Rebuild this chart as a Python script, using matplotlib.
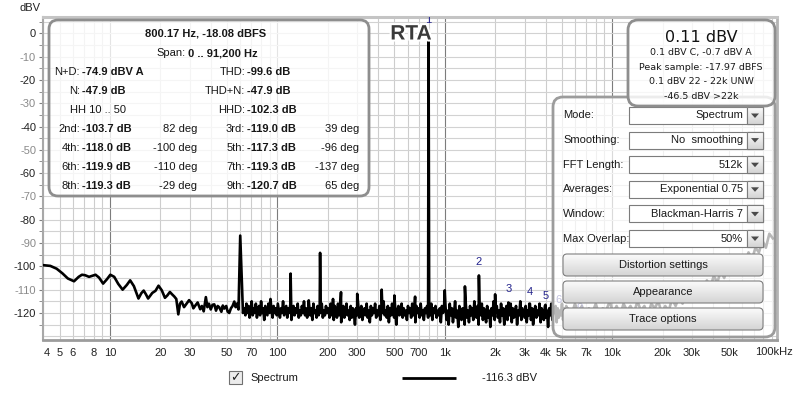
import numpy as np
import matplotlib
matplotlib.use("Agg")
import matplotlib.pyplot as plt
from matplotlib.patches import FancyBboxPatch, Rectangle, Polygon
from matplotlib.ticker import FixedLocator, NullLocator
import matplotlib.patheffects as pe
from matplotlib.colors import LinearSegmentedColormap

# ---------------- data ----------------
low_freq = [4.0, 4.4, 4.8, 5.2, 5.6, 6.1, 6.5, 6.8, 7.1, 7.5, 7.9, 8.2, 8.6, 9.1, 9.6,
            10.05, 10.6, 11.2, 11.9, 12.6, 13.2, 13.9, 14.8, 15.4, 15.9, 16.4, 16.9, 17.9,
            18.7, 19.5, 20.4, 21.3, 22.0, 22.8, 23.5, 24.2, 24.9, 25.6, 26.2, 26.8, 27.7,
            28.7, 29.7, 30.8, 31.5, 32.2, 33.4, 34.6, 35.4, 36.3, 37.4, 38.2, 39.0, 40.0,
            41.0, 42.0, 43.0, 44.0, 45.0, 46.3, 47.2, 48.2, 49.5, 50.5, 51.6, 52.8, 54.0,
            55.3, 56.3, 57.3, 58.6, 62.3]
low_db = [-99.5, -99.8, -101.0, -103.0, -105.2, -106.4, -104.5, -103.6, -103.8, -104.5,
          -104.0, -103.6, -104.8, -107.4, -105.5, -103.6, -104.5, -107.5, -110.0, -108.0,
          -106.0, -108.5, -113.8, -111.5, -110.4, -112.0, -113.8, -111.4, -110.5, -108.3,
          -110.3, -113.5, -112.5, -111.0, -112.0, -112.9, -114.0, -120.6, -116.0, -115.1,
          -117.5, -116.0, -114.5, -115.8, -118.0, -117.0, -115.5, -118.4, -117.0, -119.3,
          -113.2, -117.5, -116.0, -118.5, -116.5, -116.3, -119.0, -117.0, -117.6, -119.5,
          -116.8, -118.1, -117.0, -119.5, -120.0, -118.0, -117.0, -115.1, -117.5, -116.0,
          -118.5, -120.0]

# noise floor, 63 Hz .. 200 Hz
noise_a_db = [-118, -121, -116, -120, -117, -122, -119, -115, -121, -118, -120, -116, -122, -119,
              -117, -121, -115, -120, -118, -123, -117, -119, -121, -116, -120, -114, -119, -122,
              -117, -120, -118, -121, -116, -119, -122, -118, -120, -115, -121, -119, -117, -122,
              -118, -120, -116, -123, -119, -117, -121, -118, -120, -116, -122, -119, -121, -117,
              -120, -115, -121, -118, -122, -119, -117, -121, -118, -123, -116, -120, -119, -122,
              -117, -121, -118, -120, -116, -122, -119, -121, -117, -120]
# noise floor, 200 Hz .. 1 kHz
noise_b_db = [-118, -122, -116, -121, -119, -123, -117, -120, -122, -116, -121, -118, -124, -119,
              -117, -122, -120, -116, -121, -119, -123, -117, -122, -118, -120, -125, -118, -121,
              -116, -122, -119, -117, -123, -120, -118, -121, -116, -122, -119, -124, -117, -121,
              -118, -120, -116, -122, -119, -121, -117, -123, -118, -120, -115, -121, -119, -122,
              -117, -124, -118, -121, -116, -120, -122, -118, -125, -119, -117, -121, -120, -116,
              -122, -118, -121, -119, -123, -117, -120, -118, -122, -116, -121, -119, -124, -117,
              -120, -118, -122, -116, -121, -119, -123, -118, -120, -117, -122, -119, -121, -116,
              -123, -118, -120, -117, -122, -119, -121, -118, -124, -117, -120, -118]
# noise floor, 1 kHz .. 5.4 kHz
noise_c_db = [-117, -123, -119, -125, -116, -121, -118, -124, -120, -115, -122, -119, -126, -117,
              -121, -123, -118, -120, -125, -116, -122, -119, -124, -117, -121, -118, -123, -115,
              -120, -122, -117, -125, -119, -121, -116, -123, -118, -120, -124, -117, -122, -119,
              -126, -118, -121, -115, -123, -120, -117, -122, -119, -124, -116, -121, -118, -125,
              -120, -117, -123, -119, -121, -116, -124, -118, -122, -120, -117, -125, -119, -121,
              -115, -123, -118, -120, -122, -117, -124, -119, -121, -116, -123, -118, -125, -120,
              -117, -122, -119, -121, -116, -124, -118, -120, -123, -117, -122, -119, -126, -118,
              -121, -116, -123, -119, -120, -117, -124, -118, -122, -119, -121, -116, -123, -118,
              -120, -117, -121]
# noise floor, 5.4 kHz .. 91.2 kHz (mostly behind the control panel)
noise_d_db = [-118, -121, -116, -120, -117, -122, -118, -120, -116, -121, -118, -119, -115, -120,
              -117, -121, -116, -119, -117, -120, -115, -119, -117, -121, -116, -118, -115, -120,
              -117, -119, -114, -117, -113, -116, -112, -115, -110, -113, -108, -111, -106, -109,
              -104, -107, -102, -105, -100, -103, -98, -101, -96, -99, -94, -97, -92, -94, -89,
              -92, -86, -88]

spike_freq = [60, 120, 154, 180, 215, 240, 300, 420, 500, 665, 800.17, 1000, 1320, 1600,
              2000, 2400, 3200, 4000]
spike_db = [-86.8, -103.1, -114.6, -94.2, -114.0, -111.1, -111.8, -110.0, -112.5, -113.0, 0.11,
            -110.3, -108.6, -103.9, -112.0, -115.5, -116.0, -116.5]

fundamental = 800.17
harm_num = [1, 2, 3, 4, 5, 6, 8]
harm_label_db = [4.4, -99.5, -111.2, -112.1, -114.0, -115.6, -117.7]

x_ticks = [4, 5, 6, 8, 10, 20, 30, 50, 70, 100, 200, 300, 500, 700, 1000, 2000, 3000, 4000,
           5000, 7000, 10000, 20000, 30000, 50000]
x_tick_labels = ["4", "5", "6", "8", "10", "20", "30", "50", "70", "100", "200", "300", "500",
                 "700", "1k", "2k", "3k", "4k", "5k", "7k", "10k", "20k", "30k", "50k"]
y_ticks = [0, -10, -20, -30, -40, -50, -60, -70, -80, -90, -100, -110, -120]

# ---------------- figure ----------------
FONT = "Liberation Sans"
plt.rcParams["font.family"] = [FONT, "DejaVu Sans"]
W, H = 800, 393
fig = plt.figure(figsize=(W / 100, H / 100), dpi=100, facecolor="white")
ax = fig.add_axes([43 / W, 1 - 340 / H, (777 - 43) / W, (340 - 17) / H])
ax.set_xscale("log")
xmin, xmax = 3.98, 96600
ax.set_xlim(xmin, xmax)
ax.set_ylim(-131.6, 7.0)

# grid
for dec in [1, 10, 100, 1000, 10000]:
    for m in range(1, 10):
        v = dec * m
        if xmin < v < xmax:
            ax.axvline(v, color="#7c7c7c" if m == 1 else "#cdcdcd", lw=0.8, zorder=0)
for v in range(-130, 10, 5):
    ax.axhline(v, color="#d2d2d2", lw=0.8, zorder=0)

# trace
seg_a = np.geomspace(63.5, 198, len(noise_a_db))
seg_b = np.geomspace(202, 990, len(noise_b_db))
seg_c = np.geomspace(1010, 5400, len(noise_c_db))
seg_d = np.geomspace(5450, 91200, len(noise_d_db))
f_all = np.concatenate([low_freq, seg_a, seg_b, seg_c, seg_d, spike_freq])
d_all = np.concatenate([low_db, noise_a_db, noise_b_db, noise_c_db, noise_d_db, spike_db])
order = np.argsort(f_all)
ax.plot(f_all[order], d_all[order], color="black", lw=1.9, zorder=3)

# harmonic markers
for n, ydb in zip(harm_num, harm_label_db):
    ax.text(fundamental * n, ydb, str(n), color="#23238c", fontsize=8, ha="center",
            va="baseline", clip_on=True, zorder=4)

# ticks
ax.xaxis.set_major_locator(FixedLocator(x_ticks))
ax.set_xticklabels(x_tick_labels)
ax.xaxis.set_minor_locator(NullLocator())
ax.set_yticks(y_ticks)
ax.set_yticklabels([str(v) for v in y_ticks])
ax.yaxis.set_minor_locator(FixedLocator(list(range(-125, 10, 10))))
ax.tick_params(axis="x", length=0, pad=6, labelsize=8, labelcolor="#222222")
ax.tick_params(axis="y", which="both", length=3, color="#808080", pad=2, labelsize=8)
for i, lab in enumerate(ax.get_yticklabels()):
    lab.set_color("#222222" if i % 2 == 0 else "#8a8a8a")
for lab in ax.get_xticklabels():
    if lab.get_text() == "4":
        lab.set_horizontalalignment("left")

for side, col, lw in [("left", "#a8a8a8", 1.5), ("bottom", "#9c9c9c", 2.0),
                      ("top", "#c4c4c4", 2.2), ("right", "#b4b4b4", 2.0)]:
    ax.spines[side].set_color(col)
    ax.spines[side].set_linewidth(lw)

# ---------------- overlay (UI elements) ----------------
ui = fig.add_axes([0, 0, 1, 1], zorder=5)
ui.set_xlim(0, W)
ui.set_ylim(H, 0)
ui.axis("off")
ui.patch.set_alpha(0)

ui.text(19, 8, "dBV", fontsize=8, va="center", color="#222222")
ui.text(774, 352, "100kHz", fontsize=8, ha="center", va="center", color="#222222")

ui.text(411, 34, "RTA", fontsize=15, fontweight="bold", ha="center", va="center",
        color="#3a3a3a", path_effects=[pe.withStroke(linewidth=3, foreground="white")])

# info box (top-left)
ui.add_patch(FancyBboxPatch((49, 20), 320, 176, boxstyle="round,pad=0,rounding_size=9",
                            fc=(1, 1, 1, 0.8), ec="#8e8e8e", lw=2.0))
tc = "#161616"
ui.text(206, 34, "800.17 Hz, -18.08 dBFS", fontsize=8, fontweight="bold", ha="center",
        va="center", color=tc)
ui.text(186, 53, "Span:", fontsize=8, ha="right", va="center", color=tc)
ui.text(188, 53, "0 .. 91,200 Hz", fontsize=8, fontweight="bold", ha="left", va="center", color=tc)

left_rows = [("N+D:", "-74.9 dBV A"), ("N:", "-47.9 dB")]
right_rows = [("THD:", "-99.6 dB"), ("THD+N:", "-47.9 dB"), ("HHD:", "-102.3 dB")]
row_y = [72, 91, 110, 129, 148, 167, 186]
for (lab, val), y in zip(left_rows, row_y):
    ui.text(80, y, lab, fontsize=8, ha="right", va="center", color=tc)
    ui.text(82, y, val, fontsize=8, fontweight="bold", ha="left", va="center", color=tc)
ui.text(98, 110, "HH 10 .. 50", fontsize=8, ha="center", va="center", color=tc)
for (lab, val), y in zip(right_rows, row_y):
    ui.text(245, y, lab, fontsize=8, ha="right", va="center", color=tc)
    ui.text(247, y, val, fontsize=8, fontweight="bold", ha="left", va="center", color=tc)

harm_rows = [("2nd:", "-103.7 dB", "82 deg", "3rd:", "-119.0 dB", "39 deg"),
             ("4th:", "-118.0 dB", "-100 deg", "5th:", "-117.3 dB", "-96 deg"),
             ("6th:", "-119.9 dB", "-110 deg", "7th:", "-119.3 dB", "-137 deg"),
             ("8th:", "-119.3 dB", "-29 deg", "9th:", "-120.7 dB", "65 deg")]
for row, y in zip(harm_rows, row_y[3:]):
    ui.text(80, y, row[0], fontsize=8, ha="right", va="center", color=tc)
    ui.text(82, y, row[1], fontsize=8, fontweight="bold", ha="left", va="center", color=tc)
    ui.text(197, y, row[2], fontsize=8, ha="right", va="center", color=tc)
    ui.text(245, y, row[3], fontsize=8, ha="right", va="center", color=tc)
    ui.text(247, y, row[4], fontsize=8, fontweight="bold", ha="left", va="center", color=tc)
    ui.text(359, y, row[5], fontsize=8, ha="right", va="center", color=tc)

# control panel
ui.add_patch(FancyBboxPatch((553, 97), 222, 240, boxstyle="round,pad=0,rounding_size=10",
                            fc=(1, 1, 1, 0.72), ec="#9c9c9c", lw=2.0, zorder=2))
combo_rows = [("Mode:", "Spectrum"), ("Smoothing:", "No  smoothing"), ("FFT Length:", "512k"),
              ("Averages:", "Exponential 0.75"), ("Window:", "Blackman-Harris 7"),
              ("Max Overlap:", "50%")]
btn_cmap = LinearSegmentedColormap.from_list("btn", ["#fbfbfb", "#d4d4d4"])
grad = np.linspace(0, 1, 64).reshape(-1, 1)
for i, (lab, val) in enumerate(combo_rows):
    top = 107 + 24.6 * i
    ui.text(563, top + 8.5, lab, fontsize=8, ha="left", va="center", color="#1a1a1a", zorder=4)
    ui.add_patch(Rectangle((629, top), 134, 17, fc="white", ec="#7c7c7c", lw=0.8, zorder=3))
    bp = Rectangle((747, top), 16, 17, fc="#e4e4e4", ec="#7c7c7c", lw=0.8, zorder=3)
    ui.add_patch(bp)
    im = ui.imshow(grad, extent=(747, 763, top + 17, top), cmap=btn_cmap, aspect="auto", zorder=3.1)
    im.set_clip_path(bp)
    ui.add_patch(Rectangle((747, top), 16, 17, fc="none", ec="#7c7c7c", lw=0.8, zorder=3.2))
    ui.add_patch(Polygon([(751, top + 6.5), (759, top + 6.5), (755, top + 11)], closed=True,
                         fc="#4a4a4a", ec="none", zorder=4))
    ui.text(743, top + 8.5, val, fontsize=8, ha="right", va="center", color="#1a1a1a", zorder=4)

for j, lab in enumerate(["Distortion settings", "Appearance", "Trace options"]):
    top = 254 + 27 * j
    bpatch = FancyBboxPatch((563, top), 200, 22, boxstyle="round,pad=0,rounding_size=4",
                            fc="#e2e2e2", ec="none", zorder=3)
    ui.add_patch(bpatch)
    im = ui.imshow(grad, extent=(563, 763, top + 22, top), cmap=btn_cmap, aspect="auto", zorder=3.1)
    im.set_clip_path(bpatch)
    ui.add_patch(FancyBboxPatch((563, top), 200, 22, boxstyle="round,pad=0,rounding_size=4",
                                fc="none", ec="#7e7e7e", lw=0.8, zorder=3.2))
    ui.text(663, top + 11, lab, fontsize=8, ha="center", va="center", color="#1a1a1a", zorder=4)

# level box (top-right)
ui.add_patch(FancyBboxPatch((628, 20), 147, 86, boxstyle="round,pad=0,rounding_size=10",
                            fc=(1, 1, 1, 0.82), ec="#8e8e8e", lw=2.0, zorder=5))
ui.text(701, 38, "0.11 dBV", fontsize=11.5, ha="center", va="center", color="#111111",
        family="DejaVu Sans", zorder=6)
for k, line in enumerate(["0.1 dBV C, -0.7 dBV A", "Peak sample: -17.97 dBFS",
                          "0.1 dBV 22 - 22k UNW", "-46.5 dBV >22k"]):
    ui.text(701, 53 + 14.5 * k, line, fontsize=6.8, ha="center", va="center", color="#1a1a1a",
            family="DejaVu Sans", zorder=6)

# bottom legend
cb = Rectangle((229, 371), 13, 13, fc="#ececec", ec="#707070", lw=0.8)
ui.add_patch(cb)
ui.text(235.5, 377.5, "\u2713", fontsize=9, fontweight="bold", ha="center", va="center",
        color="#202020", family="DejaVu Sans")
ui.text(250, 378, "Spectrum", fontsize=8, ha="left", va="center", color="#1a1a1a")
ui.plot([402, 456], [378, 378], color="black", lw=2.0, solid_capstyle="butt")
ui.text(482, 378, "-116.3 dBV", fontsize=8, ha="left", va="center", color="#1a1a1a")
ui.set_xlim(0, W)
ui.set_ylim(H, 0)

fig.savefig("out.png", dpi=100, facecolor="white")
